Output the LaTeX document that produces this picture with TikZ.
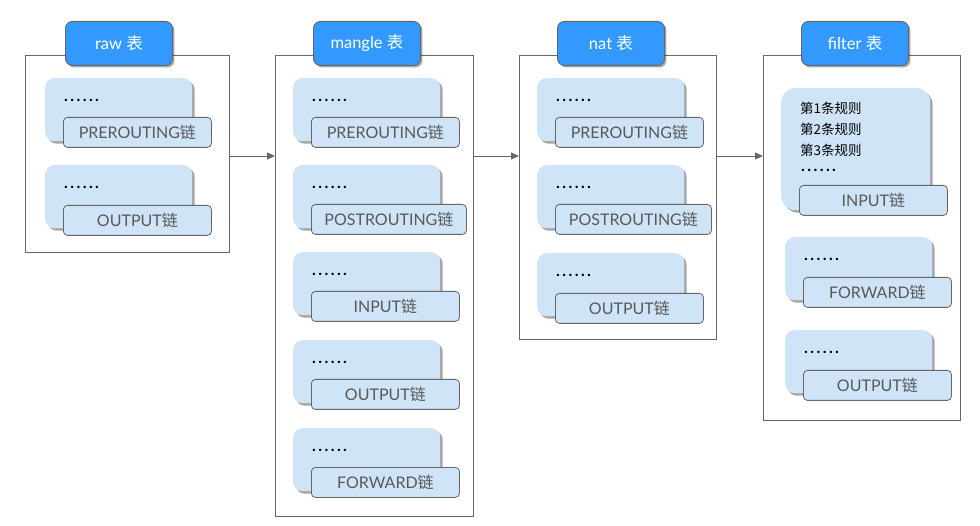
\documentclass[tikz,border=0pt]{standalone}
\usepackage{fontspec}
\setmainfont{Lato}
\newfontfamily\cjk{Noto Sans CJK SC}
\usetikzlibrary{shadows,arrows.meta}
\definecolor{tabblue}{HTML}{3399FF}
\definecolor{lightblue}{HTML}{D0E4F7}
\definecolor{edgegray}{HTML}{666666}
\definecolor{txtgray}{HTML}{595959}
\newcommand\sixdots{\makebox[6.2pt][l]{.}\makebox[6.2pt][l]{.}\makebox[6.2pt][l]{.}\makebox[6.2pt][l]{.}\makebox[6.2pt][l]{.}\makebox[6.2pt][l]{.}}
\tikzset{
  outerbox/.style={draw=edgegray, line width=0.9pt, anchor=north west, inner sep=0pt},
  tabbox/.style={draw=edgegray, fill=tabblue, rounded corners=7pt, line width=0.9pt, anchor=north west,
    minimum width=107pt, minimum height=44pt, inner sep=0pt, text=white, font=\fontsize{16.5}{18}\selectfont,
    drop shadow={shadow xshift=2pt, shadow yshift=-2pt, opacity=0.35, fill=black}},
  innerbox/.style={fill=lightblue, rounded corners=9pt, anchor=north west, minimum width=147pt,
    minimum height=63pt, inner sep=0pt,
    drop shadow={shadow xshift=2.5pt, shadow yshift=-2.5pt, opacity=0.35, fill=black}},
  chainbox/.style={draw=edgegray, fill=lightblue, rounded corners=4pt, line width=0.8pt, anchor=north west,
    minimum width=148pt, minimum height=30pt, inner sep=0pt, text=txtgray, font=\fontsize{16}{18}\selectfont},
  dotstext/.style={anchor=west, inner sep=0pt, font=\fontsize{16}{18}\selectfont\bfseries},
  ruletext/.style={anchor=north west, inner sep=0pt, align=left, font=\cjk\fontsize{13.5}{21}\selectfont},
  flow/.style={draw=edgegray, line width=0.8pt, -{Triangle[length=8pt,width=7pt]}},
}
\begin{document}
\begin{tikzpicture}[x=1pt,y=-1pt]
\useasboundingbox (0,0) rectangle (980,526);
% outer boxes
\node[outerbox, minimum width=204pt, minimum height=197pt] (raw) at (25,55) {};
\node[outerbox, minimum width=198pt, minimum height=461pt] (mangle) at (275,55) {};
\node[outerbox, minimum width=197pt, minimum height=284pt] (nat) at (519,55) {};
\node[outerbox, minimum width=197pt, minimum height=365pt] (filter) at (763,55) {};
% tabs
\node[tabbox] (rawtab) at (65,21) {raw {\cjk 表}};
\node[tabbox] (mangletab) at (313,21) {mangle {\cjk 表}};
\node[tabbox] (nattab) at (557,21) {nat {\cjk 表}};
\node[tabbox] (filtertab) at (801,21) {filter {\cjk 表}};
% raw
\node[innerbox] (r1) at (45,78) {};
\node[dotstext] (r1d) at (64,100) {\sixdots};
\node[chainbox] (r1c) at (63,117) {PREROUTING{\cjk 链}};
\node[innerbox] (r2) at (45,165) {};
\node[dotstext] (r2d) at (64,187) {\sixdots};
\node[chainbox] (r2c) at (63,205) {OUTPUT{\cjk 链}};
% mangle
\node[innerbox] (m1) at (293,78) {};
\node[dotstext] (m1d) at (312,100) {\sixdots};
\node[chainbox] (m1c) at (311,117) {PREROUTING{\cjk 链}};
\node[innerbox] (m2) at (293,165) {};
\node[dotstext] (m2d) at (312,187) {\sixdots};
\node[chainbox, minimum width=155pt] (m2c) at (311,204) {POSTROUTING{\cjk 链}};
\node[innerbox] (m3) at (293,252) {};
\node[dotstext] (m3d) at (312,274) {\sixdots};
\node[chainbox] (m3c) at (311,291) {INPUT{\cjk 链}};
\node[innerbox] (m4) at (293,340) {};
\node[dotstext] (m4d) at (312,362) {\sixdots};
\node[chainbox] (m4c) at (311,379) {OUTPUT{\cjk 链}};
\node[innerbox] (m5) at (293,428) {};
\node[dotstext] (m5d) at (312,450) {\sixdots};
\node[chainbox] (m5c) at (311,467) {FORWARD{\cjk 链}};
% nat
\node[innerbox] (n1) at (537,78) {};
\node[dotstext] (n1d) at (556,100) {\sixdots};
\node[chainbox] (n1c) at (555,117) {PREROUTING{\cjk 链}};
\node[innerbox] (n2) at (537,165) {};
\node[dotstext] (n2d) at (556,187) {\sixdots};
\node[chainbox, minimum width=156pt] (n2c) at (555,204) {POSTROUTING{\cjk 链}};
\node[innerbox] (n3) at (537,253) {};
\node[dotstext] (n3d) at (556,275) {\sixdots};
\node[chainbox] (n3c) at (555,293) {OUTPUT{\cjk 链}};
% filter
\node[innerbox, minimum width=149pt, minimum height=122pt, rounded corners=14pt] (f1) at (781,88) {};
\node[ruletext] (f1t) at (800,102) {第1条规则\\第2条规则\\第3条规则};
\node[dotstext] (f1d) at (801,170) {\sixdots};
\node[chainbox] (f1c) at (799,185) {INPUT{\cjk 链}};
\node[innerbox] (f2) at (785,237) {};
\node[dotstext] (f2d) at (804,259) {\sixdots};
\node[chainbox] (f2c) at (803,277) {FORWARD{\cjk 链}};
\node[innerbox] (f3) at (785,330) {};
\node[dotstext] (f3d) at (804,352) {\sixdots};
\node[chainbox] (f3c) at (803,370) {OUTPUT{\cjk 链}};
% arrows
\coordinate (flowy) at (0,156);
\draw[flow] (raw.east |- flowy) -- (mangle.west |- flowy);
\draw[flow] (mangle.east |- flowy) -- (nat.west |- flowy);
\draw[flow] (nat.east |- flowy) -- (filter.west |- flowy);
\end{tikzpicture}
\end{document}
